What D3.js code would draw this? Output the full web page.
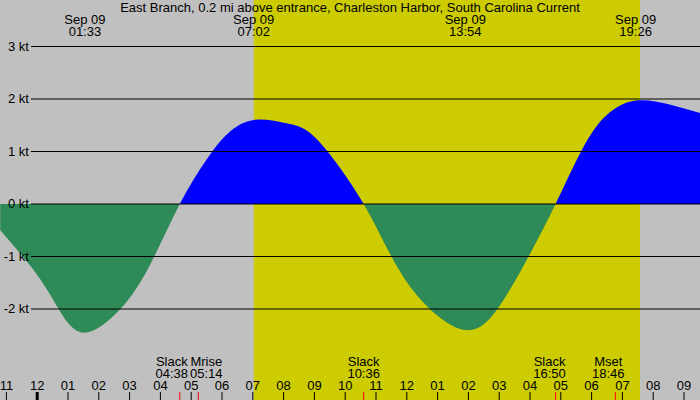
<!DOCTYPE html>
<html><head><meta charset="utf-8">
<script src="https://cdn.jsdelivr.net/npm/d3@7"></script>
<style>body{margin:0}text{font-family:"Liberation Sans",Arial,sans-serif;font-size:13px;fill:#000}</style>
</head><body><svg id="c" width="700" height="400"></svg>
<script>
// hours from Sep 09 00:00, current in knots (flood +, ebb -)
const times  = [-1.2,0,0.75,1.55,2.7,3.67,4.63,5.5,6.2,7.03,8,8.7,9.5,10.6,11.5,12.5,13.9,15,16,16.83,17.7,18.5,19.43,20.5,21.6];
const speeds = [-0.5,-1.35,-2.05,-2.45,-2.0,-1.15,0,0.85,1.35,1.6,1.55,1.42,0.95,0,-1.0,-1.85,-2.4,-1.95,-0.95,0,1.05,1.7,1.97,1.9,1.72];
const yTicks = [3,2,1,0,-1,-2];
const extremes = [[1.55,"01:33"],[7.03,"07:02"],[13.9,"13:54"],[19.43,"19:26"]];
const events = [[4.63,"Slack","04:38",-8],[5.23,"Mrise","05:14",8],[10.6,"Slack","10:36",0],[16.83,"Slack","16:50",-6],[18.77,"Mset","18:46",-7]];
const hourTicks = d3.range(-1,22);
const sunrise = 7.03, sunset = 19.57;

const svg = d3.select("#c");
const x = d3.scaleLinear().domain([0,1]).range([37.2,68]);
const y = d3.scaleLinear().domain([0,1]).range([204,151.5]);

svg.append("rect").attr("width",700).attr("height",400).attr("fill","#c0c0c0");
svg.append("rect").attr("x",x(sunrise)).attr("width",x(sunset)-x(sunrise)).attr("height",400).attr("fill","#cccc00");

const pts = times.map((t,i)=>[t,speeds[i]]);
const area = d3.area().x(d=>x(d[0])).y0(y(0)).y1(d=>y(d[1])).curve(d3.curveNatural);
const defs = svg.append("defs");
defs.append("clipPath").attr("id","pos").append("rect").attr("width",700).attr("height",y(0));
defs.append("clipPath").attr("id","neg").append("rect").attr("y",y(0)).attr("width",700).attr("height",400);
svg.append("path").attr("d",area(pts)).attr("fill","#0000ff").attr("clip-path","url(#pos)");
svg.append("path").attr("d",area(pts)).attr("fill","#2e8b57").attr("clip-path","url(#neg)");

yTicks.forEach(v=>{
  svg.append("line").attr("x1",31).attr("x2",700).attr("y1",y(v)).attr("y2",y(v)).attr("stroke","#000");
  svg.append("text").attr("x",29).attr("y",y(v)+4).attr("text-anchor","end").text(v+" kt");
});

svg.append("text").attr("x",350).attr("y",12).attr("text-anchor","middle").text("East Branch, 0.2 mi above entrance, Charleston Harbor, South Carolina Current");
extremes.forEach(([t,l])=>{
  svg.append("text").attr("x",x(t)).attr("y",24).attr("text-anchor","middle").text("Sep 09");
  svg.append("text").attr("x",x(t)).attr("y",36).attr("text-anchor","middle").text(l);
});

hourTicks.forEach(h=>{
  const hh = ((h%12)+12)%12 || 12;
  svg.append("text").attr("x",x(h)).attr("y",390).attr("text-anchor","middle").text(String(hh).padStart(2,"0"));
  svg.append("line").attr("x1",x(h)).attr("x2",x(h)).attr("y1",392).attr("y2",400)
    .attr("stroke","#000").attr("stroke-width",h===0?3:1);
});
events.forEach(([t,a,b,dx])=>{
  svg.append("text").attr("x",x(t)+dx).attr("y",366).attr("text-anchor","middle").text(a);
  svg.append("text").attr("x",x(t)+dx).attr("y",378).attr("text-anchor","middle").text(b);
  svg.append("line").attr("x1",x(t)).attr("x2",x(t)).attr("y1",392).attr("y2",400).attr("stroke","#ff0000");
});
</script></body></html>
